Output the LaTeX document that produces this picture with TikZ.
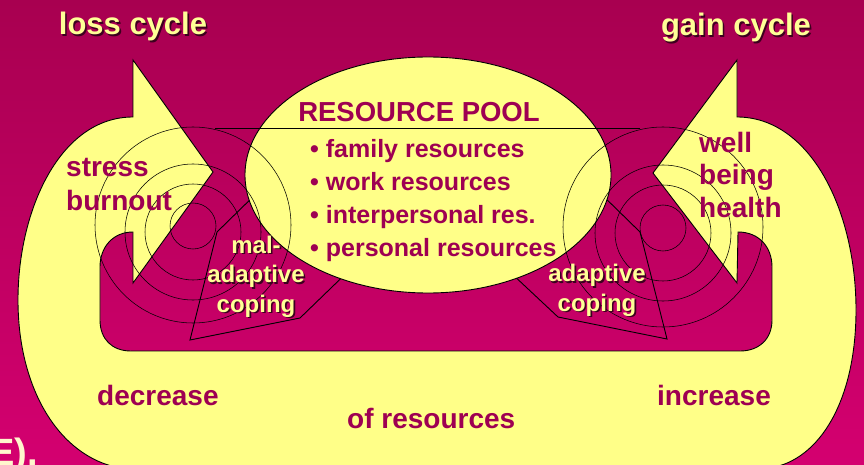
\documentclass[tikz,border=0pt]{standalone}
\usepackage{fontspec}
\setmainfont{Liberation Sans}
\usetikzlibrary{calc}
\definecolor{bgtop}{RGB}{168,0,80}
\definecolor{bgbottom}{RGB}{212,0,112}
\definecolor{paleyellow}{RGB}{255,255,136}
\definecolor{lighttext}{RGB}{255,255,150}
\definecolor{darktext}{RGB}{158,0,82}
\definecolor{shadowdark}{RGB}{60,0,30}
\definecolor{creamtext}{RGB}{255,246,205}
\newcommand\shadowed[1]{\makebox[0pt][l]{\hspace{1.6pt}\raisebox{-1.6pt}{\color{shadowdark}#1}}#1}
\tikzset{
  ushape/.style={fill=paleyellow, draw=black, line width=0.9pt},
  ring/.style={draw=black, line width=0.55pt},
  funnel/.style={draw=black, line width=0.9pt},
  cycletitle/.style={inner sep=0, text=lighttext, font=\fontsize{31}{36}\selectfont\bfseries},
  darklabel/.style={inner sep=0, text=darktext, font=\fontsize{28}{33}\selectfont\bfseries, align=left},
  copinglabel/.style={inner sep=0, text=lighttext, font=\fontsize{24}{29.5}\selectfont\bfseries, align=center}
}

\begin{document}
\begin{tikzpicture}[x=1pt,y=-1pt]
			%%%%% START %%%%%
			\useasboundingbox (0,0) rectangle (864,465);
			\shade[top color=bgtop, bottom color=bgbottom] (0,0) rectangle (864,465);
			
			% the double headed U band
			\draw[ushape] (133,60) -- (213,172) -- (133,283) -- (133,232)
			  .. controls (113,232) and (100,247) .. (100,267) -- (100,320)
			  .. controls (100,339) and (112,351) .. (131,351) -- (740,351)
			  .. controls (759,351) and (772,339) .. (772,320) -- (772,267)
			  .. controls (772,247) and (759,232) .. (738,232) -- (737,283)
			  -- (653,173) -- (737,60) -- (737,117)
			  .. controls (810,117) and (856,210) .. (856,310)
			  .. controls (856,400) and (820,460) .. (770,468) -- (120,468)
			  .. controls (60,457) and (18,390) .. (18,300)
			  .. controls (18,210) and (60,117) .. (133,117) -- cycle;
			
			% coping funnels
			\draw[funnel] (262,188) -- (217,232) -- (190,340) -- (300,318) -- (362,258);
			\draw[funnel] (595,188) -- (640,232) -- (667,339) -- (558,317) -- (495,258);
			
			% resource pool
			\draw[fill=paleyellow, line width=0.9pt] (428,175) ellipse [x radius=183pt, y radius=118pt];
			
			% rings round the two arrow tips
			\draw[ring] (193,226) circle [radius=23pt];
			\draw[ring] (193,232) circle [radius=48pt];
			\draw[ring] (193,232) circle [radius=68pt];
			\draw[ring] (193,225) circle [radius=98pt];
			
			\draw[ring] (663,228) circle [radius=23pt];
			\draw[ring] (663,233) circle [radius=48pt];
			\draw[ring] (663,233) circle [radius=68pt];
			\draw[ring] (663,227) circle [radius=100pt];
			
			\draw[line width=0.9pt] (215,128) -- (640,128);
			
			% labels
			\node[cycletitle, anchor=base] (loss) at (133,35) {\shadowed{loss cycle}};
			\node[cycletitle, anchor=base] (gain) at (736,36) {\shadowed{gain cycle}};
			
			\node[darklabel, anchor=base west] (stress) at (66,210) {stress\\burnout};
			\node[darklabel, anchor=base west] (well) at (699,218) {well\\being\\health};
			
			\node[inner sep=0, text=darktext, font=\fontsize{27.5}{33}\selectfont\bfseries, anchor=base] (pool) at (419,122) {RESOURCE POOL};
			\node[inner sep=0, text=darktext, font=\fontsize{25}{33}\selectfont\bfseries, align=left, anchor=base west] (items) at (310,256)
			  {• family resources\\• work resources\\• interpersonal res.\\• personal resources};
			
			\node[copinglabel, anchor=base] (maladaptive) at (256,312) {\shadowed{mal-}\\\shadowed{adaptive}\\\shadowed{coping}};
			\node[copinglabel, anchor=base] (adaptive) at (597,311) {\shadowed{adaptive}\\\shadowed{coping}};
			
			\node[darklabel, anchor=base west] (decrease) at (97,405) {decrease};
			\node[darklabel, anchor=base west] (ofres) at (347,428) {of resources};
			\node[darklabel, anchor=base west] (increase) at (657,405) {increase};
			
			\node[inner sep=0, text=creamtext, font=\fontsize{38}{44}\selectfont\bfseries, anchor=base west] (cutoff) at (-10.6,465) {E).};
			%%%%% END %%%%%
\end{tikzpicture}
\end{document}
